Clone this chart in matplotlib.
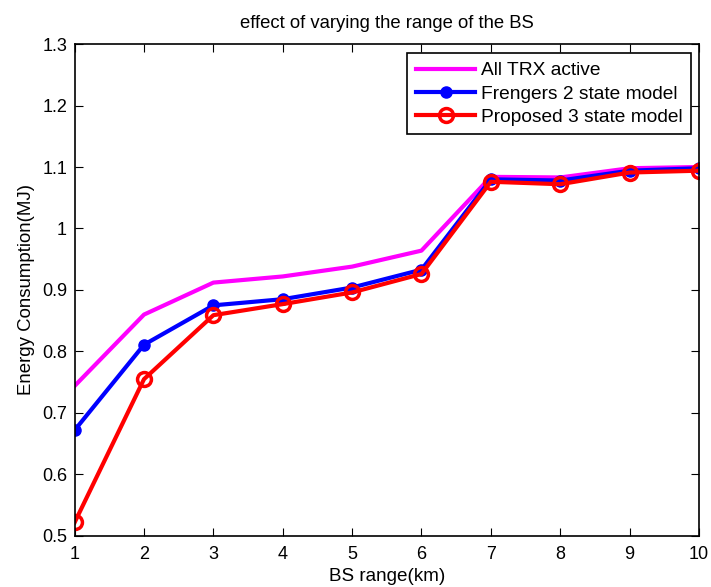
import matplotlib
matplotlib.use('Agg')
import matplotlib.pyplot as plt

plt.rcParams['font.family'] = ['Liberation Sans', 'DejaVu Sans']

# data
bs_range = [1, 2, 3, 4, 5, 6, 7, 8, 9, 10]
all_trx = [0.744, 0.860, 0.912, 0.922, 0.938, 0.964, 1.084, 1.083, 1.098, 1.100]
frengers = [0.672, 0.811, 0.875, 0.885, 0.904, 0.933, 1.080, 1.078, 1.094, 1.098]
proposed = [0.522, 0.755, 0.859, 0.877, 0.896, 0.926, 1.076, 1.072, 1.091, 1.094]

labels = ['All TRX active', 'Frengers 2 state model', 'Proposed 3 state model']

fig = plt.figure(figsize=(7.11, 5.87), dpi=100)
ax = fig.add_axes([0.105, 0.087, 0.878, 0.838])

ax.plot(bs_range, all_trx, color='magenta', linewidth=3, label=labels[0])
ax.plot(bs_range, frengers, color='blue', linewidth=3, marker='o',
        markersize=8, label=labels[1])
ax.plot(bs_range, proposed, color='red', linewidth=3, marker='o',
        markersize=10, markerfacecolor='none', markeredgewidth=2.5,
        label=labels[2])

ax.set_xlim(1, 10)
ax.set_ylim(0.5, 1.3)
ax.set_xticks(bs_range)
ax.set_yticks([0.5, 0.6, 0.7, 0.8, 0.9, 1.0, 1.1, 1.2, 1.3])
ax.set_yticklabels(['0.5', '0.6', '0.7', '0.8', '0.9', '1', '1.1', '1.2', '1.3'])
ax.tick_params(direction='in', top=True, right=True, labelsize=13, length=6)
ax.tick_params(axis='x', pad=7)
ax.tick_params(axis='y', pad=5.5)
for s in ax.spines.values():
    s.set_linewidth(1.2)

ax.set_title('effect of varying the range of the BS', fontsize=13.3, pad=11.5)
ax.set_xlabel('BS range(km)', fontsize=13.6, labelpad=4)
ax.set_ylabel('Energy Consumption(MJ)', fontsize=13.4, labelpad=5)

leg = ax.legend(loc='upper right', bbox_to_anchor=(0.988, 0.981),
                borderaxespad=0, fontsize=13.8, fancybox=False, framealpha=1,
                handlelength=3.1, borderpad=0.45, labelspacing=0.3,
                handletextpad=0.31)
leg.get_frame().set_edgecolor('black')
leg.get_frame().set_linewidth(1.2)

fig.savefig('out.png', dpi=100)
